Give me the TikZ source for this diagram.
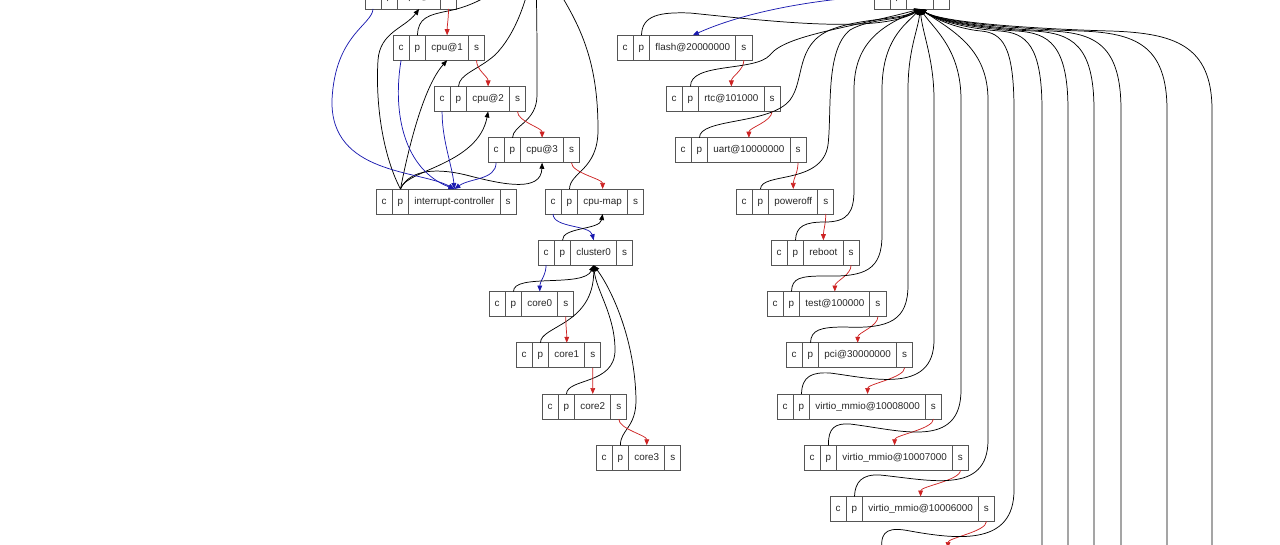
\documentclass[tikz,border=0pt]{standalone}
\usepackage{fontspec}
\setmainfont{Liberation Sans}
\usetikzlibrary{arrows.meta, positioning}
\definecolor{sibred}{RGB}{205,35,35}
\definecolor{kidblue}{RGB}{25,25,175}
\definecolor{cellgray}{RGB}{85,85,85}

% one device-tree record: c | p | name | s
\newcommand{\dtnode}[3]{%
  \node[cell, anchor=west] (#1-c) at (#2) {c};
  \node[cell, right=0pt of #1-c] (#1-p) {p};
  \node[cell, right=0pt of #1-p] (#1-l) {#3};
  \node[cell, right=0pt of #1-l] (#1-s) {s};
}

\begin{document}
\begin{tikzpicture}[
        x=0.75pt, y=-0.75pt,
        cell/.style={rectangle, draw=cellgray, line width=0.6pt, minimum height=18.75pt, inner xsep=4.2pt, inner ysep=0pt, outer sep=0pt, text height=5.4pt, text depth=1.5pt, font=\fontsize{7.4}{8.8}\selectfont, text=black!85},
        tail/.style={-{Triangle[length=4.5pt, width=3.6pt]}, line width=0.55pt},
        parent/.style={tail, black},
        sibling/.style={tail, sibred},
        child/.style={tail, kidblue}
    ]
    \useasboundingbox (0,0) rectangle (1280,545);

    % cpus branch
    \dtnode{cpu0}{365,-3.5}{cpu@0}
    \dtnode{cpu1}{393,47.75}{cpu@1}
    \dtnode{cpu2}{434,99}{cpu@2}
    \dtnode{cpu3}{488,150.25}{cpu@3}
    \dtnode{intc}{376,201.5}{interrupt-controller}
    \dtnode{cpumap}{545,201.5}{cpu-map}
    \dtnode{cluster0}{538,252.75}{cluster0}
    \dtnode{core0}{489,304}{core0}
    \dtnode{core1}{516,355.25}{core1}
    \dtnode{core2}{542,406.5}{core2}
    \dtnode{core3}{596,457.75}{core3}

    % soc branch
    \dtnode{soc}{874,-3.5}{soc}
    \dtnode{flash}{617,47.75}{flash@20000000}
    \dtnode{rtc}{666,99}{rtc@101000}
    \dtnode{uart}{675,150.25}{uart@10000000}
    \dtnode{poweroff}{736,201.5}{poweroff}
    \dtnode{reboot}{771,252.75}{reboot}
    \dtnode{test}{767,304}{test@100000}
    \dtnode{pci}{786,355.25}{pci@30000000}
    \dtnode{vio8}{777,406.5}{virtio\_mmio@10008000}
    \dtnode{vio7}{804,457.75}{virtio\_mmio@10007000}
    \dtnode{vio6}{830,509}{virtio\_mmio@10006000}

    % ends that lie outside the page
    \coordinate (cpus-l) at (535,-45);
    \coordinate (vio5-p) at (882,548);
    \coordinate (vio5-l) at (948,548);
    \coordinate (off1) at (1042,570);
    \coordinate (off2) at (1068,570);
    \coordinate (off3) at (1094,570);
    \coordinate (off4) at (1121,570);
    \coordinate (off5) at (1167,570);
    \coordinate (off6) at (1212,570);

    % cpus: parents
    \draw[parent] (cpu1-p.north) .. controls (418,18) and (428,15) .. (448,11) .. controls (490,3) and (515,-25) .. (cpus-l);
    \draw[parent] (cpu2-p.north) .. controls (459,74) and (478,70) .. (495,55) .. controls (515,35) and (528,0) .. (cpus-l);
    \draw[parent] (cpu3-p.north) .. controls (513,125) and (537,122) .. (537,95) .. controls (537,40) and (537,0) .. (cpus-l);
    \draw[parent] (cpumap-p.north) .. controls (570,172) and (598,170) .. (598,130) .. controls (598,50) and (575,15) .. (cpus-l);

    % cpus: siblings
    \draw[sibling] (cpu0-s.south) .. controls +(0,10) and +(0,-10) .. (cpu1-l.north);
    \draw[sibling] (cpu1-s.south) .. controls +(0,10) and +(0,-10) .. (cpu2-l.north);
    \draw[sibling] (cpu2-s.south) .. controls +(0,10) and +(0,-10) .. (cpu3-l.north);
    \draw[sibling] (cpu3-s.south) .. controls +(0,10) and +(0,-10) .. (cpumap-l.north);

    % interrupt-controller
    \draw[parent] (intc-p.north) .. controls (385,160) and (375,110) .. (378,60) .. controls (380,32) and (405,28) .. (cpu0-l.south);
    \draw[parent] (intc-p.north) .. controls (410,140) and (425,85) .. (cpu1-l.south);
    \draw[parent] (intc-p.north) .. controls (405,170) and (478,165) .. (cpu2-l.south);
    \draw[parent] (intc-p.north) .. controls (410,168) and (440,168) .. (470,176) .. controls (505,185) and (541,192) .. (cpu3-l.south);
    \draw[child] (cpu0-c.south) .. controls (372,25) and (335,35) .. (332,100) .. controls (330,175) and (420,170) .. (intc-l.north);
    \draw[child] (cpu1-c.south) .. controls (392,115) and (405,170) .. (intc-l.north);
    \draw[child] (cpu2-c.south) .. controls (442,140) and (452,165) .. (intc-l.north);
    \draw[child] (cpu3-c.south) .. controls (496,180) and (470,178) .. (intc-l.north);

    % cpu-map and cluster0
    \draw[child] (cpumap-c.south) .. controls (553,228) and (590,225) .. (cluster0-l.north);
    \draw[parent] (cluster0-p.north) .. controls (562,227) and (600,230) .. (cpumap-l.south);
    \draw[child] (cluster0-c.south) .. controls +(0,10) and +(0,-10) .. (core0-l.north);
    \draw[parent] (core0-p.north) .. controls (513,273) and (584,288) .. (cluster0-l.south);
    \draw[parent] (core1-p.north) .. controls (540,326) and (594,325) .. (cluster0-l.south);
    \draw[parent] (core2-p.north) .. controls (567,378) and (615,385) .. (615,350) .. controls (615,315) and (596,290) .. (cluster0-l.south);
    \draw[parent] (core3-p.north) .. controls (620,430) and (636,428) .. (636,400) .. controls (635,340) and (612,290) .. (cluster0-l.south);
    \draw[sibling] (core0-s.south) .. controls +(0,10) and +(0,-10) .. (core1-l.north);
    \draw[sibling] (core1-s.south) .. controls +(0,10) and +(0,-10) .. (core2-l.north);
    \draw[sibling] (core2-s.south) .. controls +(0,10) and +(0,-10) .. (core3-l.north);

    % soc: first child and siblings
    \draw[child] (soc-c.west) .. controls (850,-3) and (760,5) .. (flash-l.north);
    \draw[sibling] (flash-s.south) .. controls +(0,10) and +(0,-10) .. (rtc-l.north);
    \draw[sibling] (rtc-s.south) .. controls +(0,10) and +(0,-10) .. (uart-l.north);
    \draw[sibling] (uart-s.south) .. controls +(0,10) and +(0,-10) .. (poweroff-l.north);
    \draw[sibling] (poweroff-s.south) .. controls +(0,10) and +(0,-10) .. (reboot-l.north);
    \draw[sibling] (reboot-s.south) .. controls +(0,10) and +(0,-10) .. (test-l.north);
    \draw[sibling] (test-s.south) .. controls +(0,10) and +(0,-10) .. (pci-l.north);
    \draw[sibling] (pci-s.south) .. controls +(0,10) and +(0,-10) .. (vio8-l.north);
    \draw[sibling] (vio8-s.south) .. controls +(0,10) and +(0,-10) .. (vio7-l.north);
    \draw[sibling] (vio7-s.south) .. controls +(0,10) and +(0,-10) .. (vio6-l.north);
    \draw[sibling] (vio6-s.south) .. controls +(0,10) and +(0,-10) .. (vio5-l);

    % soc: parents
    \draw[parent] (flash-p.north) .. controls (642,15) and (660,12) .. (690,13) .. controls (760,20) and (880,35) .. (soc-l.south);
    \draw[parent] (rtc-p.north) .. controls (690,62) and (755,72) .. (770,55) .. controls (785,35) and (850,28) .. (soc-l.south);
    \draw[parent] (uart-p.north) .. controls (699,118) and (770,125) .. (790,100) .. controls (805,80) and (795,45) .. (830,30) .. controls (860,18) and (900,20) .. (soc-l.south);
    \draw[parent] (poweroff-p.north) .. controls (761,172) and (822,185) .. (828,145) .. controls (832,110) and (825,50) .. (850,30) .. controls (870,18) and (905,20) .. (soc-l.south);
    \draw[parent] (reboot-p.north) .. controls (796,226) and (805,222) .. (825,222) .. controls (848,222) and (854,212) .. (854,190) -- (854,90) .. controls (854,40) and (885,25) .. (soc-l.south);
    \draw[parent] (test-p.north) .. controls (792,278) and (800,276) .. (825,276) .. controls (865,277) and (882,270) .. (882,235) -- (882,90) .. controls (882,40) and (905,25) .. (soc-l.south);
    \draw[parent] (pci-p.north) .. controls (811,330) and (820,327) .. (845,327) .. controls (890,329) and (908,320) .. (908,285) -- (908,90) .. controls (908,50) and (918,30) .. (soc-l.south);
    \draw[parent] (vio8-p.north) .. controls (802,376) and (812,372) .. (830,373) .. controls (870,378) and (934,395) .. (934,340) -- (934,100) .. controls (934,60) and (923,35) .. (soc-l.south);
    \draw[parent] (vio7-p.north) .. controls (828,428) and (835,423) .. (850,424) .. controls (900,430) and (961,450) .. (961,390) -- (961,100) .. controls (961,50) and (935,30) .. (soc-l.south);
    \draw[parent] (vio6-p.north) .. controls (855,482) and (862,474) .. (880,475) .. controls (930,480) and (988,495) .. (988,440) -- (988,100) .. controls (988,50) and (955,32) .. (soc-l.south);
    \draw[parent] (vio5-p) .. controls (880,530) and (890,527) .. (910,531) .. controls (960,540) and (1014,545) .. (1014,490) -- (1014,110) .. controls (1014,45) and (1002,33) .. (981,31) .. controls (969,30) and (945,25) .. (soc-l.south);
    \draw[parent] (off1) -- (1042,110) .. controls (1042,45) and (1026,33) .. (1000,31) .. controls (984,30) and (945,25) .. (soc-l.south);
    \draw[parent] (off2) -- (1068,110) .. controls (1068,45) and (1049,33) .. (1017,31) .. controls (998,30) and (945,25) .. (soc-l.south);
    \draw[parent] (off3) -- (1094,110) .. controls (1094,45) and (1072,33) .. (1033,31) .. controls (1011,30) and (945,25) .. (soc-l.south);
    \draw[parent] (off4) -- (1121,110) .. controls (1121,45) and (1095,33) .. (1051,31) .. controls (1025,30) and (945,25) .. (soc-l.south);
    \draw[parent] (off5) -- (1167,110) .. controls (1167,45) and (1135,33) .. (1081,31) .. controls (1049,30) and (945,25) .. (soc-l.south);
    \draw[parent] (off6) -- (1212,110) .. controls (1212,45) and (1174,33) .. (1110,31) .. controls (1072,30) and (945,25) .. (soc-l.south);
\end{tikzpicture}
\end{document}
